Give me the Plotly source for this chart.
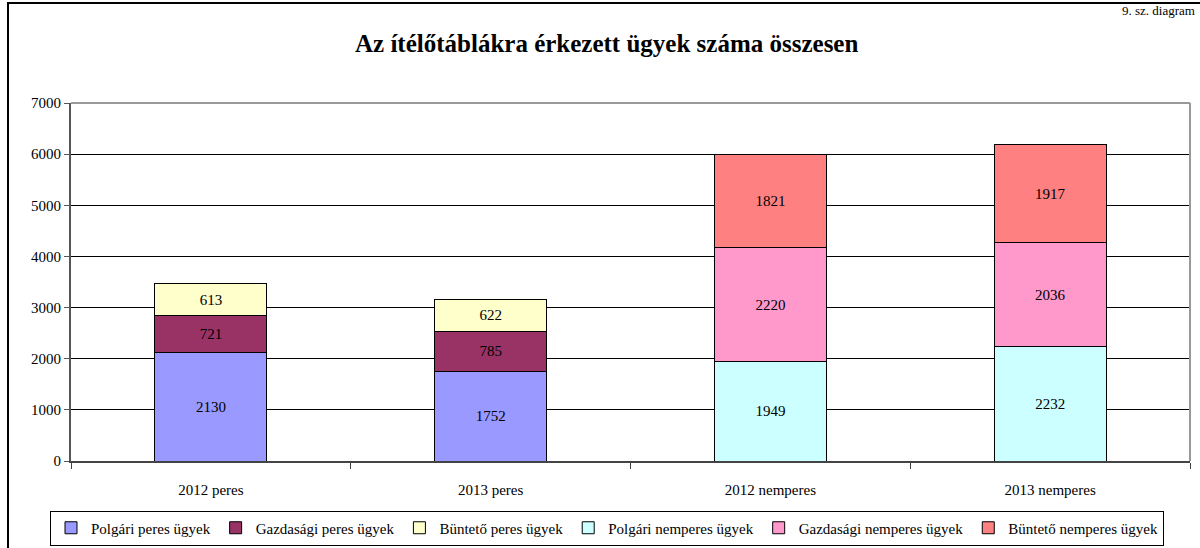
import plotly.graph_objects as go

categories = ["2012 peres", "2013 peres", "2012 nemperes", "2013 nemperes"]
series_names = ["Polgári peres ügyek", "Gazdasági peres ügyek", "Büntető peres ügyek",
                "Polgári nemperes ügyek", "Gazdasági nemperes ügyek", "Büntető nemperes ügyek"]
polgari_peres = [2130, 1752, None, None]
gazdasagi_peres = [721, 785, None, None]
bunteto_peres = [613, 622, None, None]
polgari_nemperes = [None, None, 1949, 2232]
gazdasagi_nemperes = [None, None, 2220, 2036]
bunteto_nemperes = [None, None, 1821, 1917]
colors = ["#9999FF", "#993366", "#FFFFCC", "#CCFFFF", "#FF99CC", "#FF8080"]
y_ticks = [0, 1000, 2000, 3000, 4000, 5000, 6000, 7000]

FONT = "Liberation Serif"
W, H = 1200, 548
ML, MR, MT, MB = 71, 10, 103, 87
PW = W - ML - MR
PH = H - MT - MB


def px_x(p):
    return (p - ML) / PW


def px_y(p):
    return (H - MB - p) / PH


fig = go.Figure()
values = [polgari_peres, gazdasagi_peres, bunteto_peres,
          polgari_nemperes, gazdasagi_nemperes, bunteto_nemperes]
for name, vals, col in zip(series_names, values, colors):
    fig.add_trace(go.Bar(
        x=categories, y=vals, name=name, width=0.4,
        marker=dict(color=col, line=dict(color="black", width=1)),
        text=[str(v) if v is not None else "" for v in vals],
        textposition="inside", insidetextanchor="middle", textangle=0,
        textfont=dict(family=FONT, size=15, color="black"),
        hoverinfo="x+y+name",
    ))

fig.update_layout(
    width=W, height=H,
    barmode="stack",
    paper_bgcolor="white", plot_bgcolor="white",
    margin=dict(l=ML, r=MR, t=MT, b=MB, autoexpand=False),
    font=dict(family=FONT, size=14, color="black"),
    showlegend=True,
    legend=dict(
        orientation="h", xanchor="center", yanchor="middle",
        x=px_x(607), y=px_y(528),
        bordercolor="black", borderwidth=1,
        font=dict(family=FONT, size=15, color="black"),
        itemwidth=30, traceorder="normal",
    ),
)

fig.update_xaxes(
    type="category", categoryorder="array", categoryarray=categories,
    showline=True, linecolor="#444444", linewidth=2,
    ticks="outside", tickson="boundaries", ticklen=6, tickcolor="#444444",
    ticklabelstandoff=14,
    tickfont=dict(family=FONT, size=15, color="black"),
    showgrid=False, zeroline=False,
)
fig.update_yaxes(
    range=[0, 7000], tickvals=y_ticks,
    showline=True, linecolor="#555555", linewidth=2,
    ticks="outside", ticklen=5, tickcolor="#555555",
    tickfont=dict(family=FONT, size=15, color="black"),
    showgrid=True, gridcolor="black", gridwidth=1, zeroline=False,
)

# plot-area border (top and right, gray)
fig.add_shape(type="line", xref="paper", yref="paper", x0=0, x1=1, y0=1, y1=1,
              line=dict(color="#999999", width=2), layer="above")
fig.add_shape(type="line", xref="paper", yref="paper", x0=1, x1=1, y0=0, y1=1,
              line=dict(color="#999999", width=2), layer="above")
# outer chart border
fig.add_shape(type="rect", xref="paper", yref="paper",
              x0=px_x(8), x1=px_x(1210), y0=px_y(560), y1=px_y(3),
              line=dict(color="black", width=2), fillcolor="rgba(0,0,0,0)", layer="below")

fig.add_annotation(text="<b>Az ítélőtáblákra érkezett ügyek száma összesen</b>",
                   xref="paper", yref="paper", x=px_x(606), y=px_y(43),
                   xanchor="center", yanchor="middle", showarrow=False,
                   font=dict(family=FONT, size=25, color="black"))
fig.add_annotation(text="9. sz. diagram",
                   xref="paper", yref="paper", x=px_x(1197), y=px_y(11),
                   xanchor="right", yanchor="middle", showarrow=False,
                   font=dict(family=FONT, size=13, color="black"))

fig.write_html("out.html", config={"displayModeBar": False},
               post_script="document.body.style.margin='0';document.body.style.overflow='hidden';")
